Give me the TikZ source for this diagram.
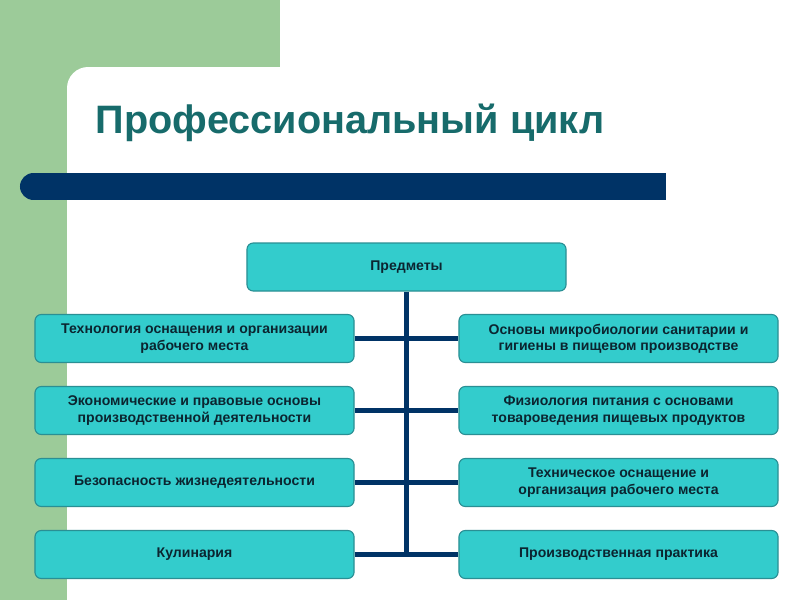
\documentclass[tikz,border=0pt]{standalone}
\usepackage{fontspec}
\setmainfont{Liberation Sans}
\usepackage{tikz}
\usetikzlibrary{positioning,calc}
\usepackage{xcolor}
\definecolor{bggreen}{HTML}{9CCB99}
\definecolor{barnavy}{HTML}{003366}
\definecolor{titleteal}{HTML}{176B6B}
\definecolor{boxfill}{HTML}{33CCCC}
\definecolor{boxedge}{HTML}{2A8F94}
\definecolor{boxtext}{HTML}{0B2530}

\tikzset{
    subjbox/.style={draw=boxedge, line width=0.8pt, fill=boxfill, rounded corners=4.5pt,
        minimum width=7.975cm, minimum height=1.2cm, align=center, text=boxtext,
        font=\fontsize{10}{11.6}\selectfont\bfseries, inner sep=2pt},
    trunk/.style={draw=barnavy, line width=3.4pt}
}

\begin{document}
\begin{tikzpicture}[x=0.025cm, y=-0.025cm]
    \useasboundingbox (0,0) rectangle (800,600);
    % Background
    \fill[white] (0,0) rectangle (800,600);
    \fill[bggreen] (0,0) rectangle (280,600);
    \fill[white] (67,600) [rounded corners=15] -- (67,67) [sharp corners] -- (800,67) -- (800,600) -- cycle;

    % Title
    \node[font=\fontsize{28.2}{34}\selectfont\bfseries, color=titleteal, anchor=west] (title) at (91,123) {Профессиональный цикл};

    % Navy bar under title
    \draw[barnavy, line width=0.675cm, line cap=round] (33.5,186.5) -- (600,186.5);
    \fill[barnavy] (600,173) rectangle (666,200);

    % Top box
    \node[subjbox] (top) at (406.5,267) {Предметы};

    % Left column
    \foreach \i/\txt in {1/{Технология оснащения и организации\\рабочего места},
                         2/{Экономические и правовые основы\\производственной деятельности},
                         3/{Безопасность жизнедеятельности},
                         4/{Кулинария}} {
        \pgfmathsetmacro{\sy}{338.5 + (\i-1)*72}
        \node[subjbox] (l\i) at (194.5,\sy) {\txt};
    }

    % Right column
    \foreach \i/\txt in {1/{Основы микробиологии санитарии и\\гигиены в пищевом производстве},
                         2/{Физиология питания с основами\\товароведения пищевых продуктов},
                         3/{Техническое оснащение и\\организация рабочего места},
                         4/{Производственная практика}} {
        \pgfmathsetmacro{\sy}{338.5 + (\i-1)*72}
        \node[subjbox] (r\i) at (618.5,\sy) {\txt};
    }

    % Connectors
    \draw[trunk] (top.south) -- (top.south |- l4.east);
    \foreach \i in {1,...,4} {
        \draw[trunk] (l\i.east) -- (r\i.west);
    }
\end{tikzpicture}
\end{document}
